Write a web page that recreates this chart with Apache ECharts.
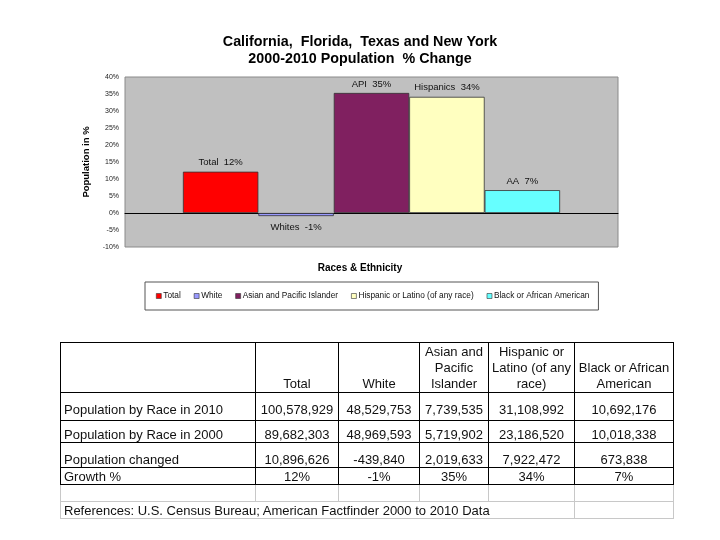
<!DOCTYPE html>
<html>
<head>
<meta charset="utf-8">
<script src="https://cdn.jsdelivr.net/npm/echarts@6/dist/echarts.min.js"></script>
<style>
  html, body { margin: 0; padding: 0; background: #fff; }
  #wrap { position: relative; width: 720px; height: 540px; }
  #chart { position: absolute; left: 0; top: 0; width: 720px; height: 540px; }
  #tbl { position: absolute; left: 60px; top: 342px; border-collapse: collapse;
         font-family: "Liberation Sans", Arial, sans-serif; font-size: 13px; color: #111; table-layout: fixed; }
  #tbl td { border: 1px solid #000; padding: 0 3px 0 3px; vertical-align: bottom; line-height: 15px;
            text-align: center; white-space: nowrap; overflow: hidden; box-sizing: border-box; }
  #tbl tr.hdr td { line-height: 16px; padding-bottom: 0; }
  #tbl tr.r2010 td { padding-bottom: 3px; }
  #tbl td.lbl { text-align: left; }
  #tbl tr.r2000 td { border-top: none; }
  #tbl tr.r2000 td.tl { border-top: 1px solid #000; }
  #tbl tr.light td { border-color: #c8c8c8; }
  #tbl tr.lightTop td { border-top-color: #000; }
</style>
</head>
<body>
<div id="wrap">
  <div id="chart"></div>
  <table id="tbl"></table>
</div>
<script>
// ---- Chart data ----
const seriesNames = ['Total', 'White', 'Asian and Pacific Islander', 'Hispanic or Latino (of any race)', 'Black or African American'];
const growthValues = [12.15, -0.90, 35.31, 34.17, 6.73];
const barLabels = ['Total  12%', 'Whites  -1%', 'API  35%', 'Hispanics  34%', 'AA  7%'];
const barColors = ['#FF0000', '#9999FF', '#802060', '#FFFFC0', '#66FFFF'];
const yTicks = { min: -10, max: 40, step: 5 };

// ---- Table data ----
const tableHeaders = ['', 'Total', 'White', 'Asian and<br>Pacific<br>Islander', 'Hispanic or<br>Latino (of any<br>race)', 'Black or African<br>American'];
const rowLabels = ['Population by Race in 2010', 'Population by Race in 2000', 'Population changed', 'Growth %'];
const pop2010 = ['100,578,929', '48,529,753', '7,739,535', '31,108,992', '10,692,176'];
const pop2000 = ['89,682,303', '48,969,593', '5,719,902', '23,186,520', '10,018,338'];
const popChanged = ['10,896,626', '-439,840', '2,019,633', '7,922,472', '673,838'];
const growthPct = ['12%', '-1%', '35%', '34%', '7%'];
const referenceText = 'References: U.S. Census Bureau; American Factfinder 2000 to 2010 Data';

const colWidths = [195, 83, 81, 69, 86, 99];
const rowHeights = [50, 28, 22, 25, 17, 17, 17];

// ---- Build table ----
(function () {
  const t = document.getElementById('tbl');
  let html = '<colgroup>' + colWidths.map(w => '<col style="width:' + w + 'px">').join('') + '</colgroup>';
  html += '<tr class="hdr" style="height:' + rowHeights[0] + 'px">' + tableHeaders.map(h => '<td>' + h + '</td>').join('') + '</tr>';
  const rows = [pop2010, pop2000, popChanged, growthPct];
  rows.forEach((r, i) => {
    const cls = i === 0 ? ' class="r2010"' : (i === 1 ? ' class="r2000"' : '');
    html += '<tr' + cls + ' style="height:' + rowHeights[i + 1] + 'px"><td class="lbl">' + rowLabels[i] + '</td>' +
      r.map((v, j) => '<td' + (i === 1 && (j === 1 || j === 2) ? ' class="tl"' : '') + '>' + v + '</td>').join('') + '</tr>';
  });
  html += '<tr class="light lightTop" style="height:' + rowHeights[5] + 'px">' + colWidths.map(() => '<td></td>').join('') + '</tr>';
  html += '<tr class="light" style="height:' + rowHeights[6] + 'px"><td class="lbl" colspan="5">' + referenceText + '</td><td></td></tr>';
  t.innerHTML = html;
})();

// ---- Chart ----
const chart = echarts.init(document.getElementById('chart'), null, { renderer: 'canvas' });
const FONT = '"Liberation Sans", Arial, sans-serif';

const series = seriesNames.map((name, i) => ({
  name: name,
  type: 'bar',
  data: [growthValues[i]],
  barGap: '0%',
  barCategoryGap: '23.5%',
  itemStyle: { color: barColors[i], borderColor: '#333', borderWidth: 0.8 },
  label: {
    show: true,
    position: growthValues[i] < 0 ? 'bottom' : 'top',
    distance: growthValues[i] < 0 ? 6 : 4,
    formatter: barLabels[i],
    fontFamily: FONT,
    fontSize: 9.5,
    color: '#111'
  },
  emphasis: { disabled: true },
  animation: false
}));

chart.setOption({
  animation: false,
  backgroundColor: '#fff',
  title: [
    {
      text: 'California,  Florida,  Texas and New York\n2000-2010 Population  % Change',
      left: 'center',
      top: 29,
      textStyle: { fontFamily: FONT, fontSize: 14.3, fontWeight: 'bold', color: '#000', lineHeight: 17 }
    },
    {
      text: 'Races & Ethnicity',
      left: 'center',
      top: 258,
      textStyle: { fontFamily: FONT, fontSize: 10, fontWeight: 'bold', color: '#000' }
    }
  ],
  legend: {
    data: seriesNames,
    left: 145,
    top: 282,
    padding: [10, 9, 10, 11],
    itemWidth: 5,
    itemHeight: 5,
    itemGap: 13,
    icon: 'rect',
    borderColor: '#555',
    borderWidth: 1,
    textStyle: { fontFamily: FONT, fontSize: 8.3, color: '#111', padding: [0, 0, 0, -3] },
    itemStyle: { borderColor: '#333', borderWidth: 0.6 },
    selectedMode: false
  },
  grid: {
    left: 125, right: 102, top: 77, height: 170,
    show: true, backgroundColor: '#C0C0C0', borderColor: '#8a8a8a', borderWidth: 1
  },
  xAxis: {
    type: 'category',
    data: [''],
    axisLine: { onZero: true, lineStyle: { color: '#000', width: 1 } },
    axisTick: { show: false },
    axisLabel: { show: false },
    splitLine: { show: false }
  },
  yAxis: {
    type: 'value',
    min: yTicks.min,
    max: yTicks.max,
    interval: yTicks.step,
    name: 'Population in %',
    nameLocation: 'middle',
    nameRotate: 90,
    nameGap: 27,
    nameTextStyle: { fontFamily: FONT, fontSize: 9.5, fontWeight: 'bold', color: '#000' },
    axisLine: { show: false },
    axisTick: { show: false },
    splitLine: { show: false },
    axisLabel: { formatter: '{value}%', fontFamily: FONT, fontSize: 7, color: '#222', margin: 6 }
  },
  series: series
});
</script>
</body>
</html>
